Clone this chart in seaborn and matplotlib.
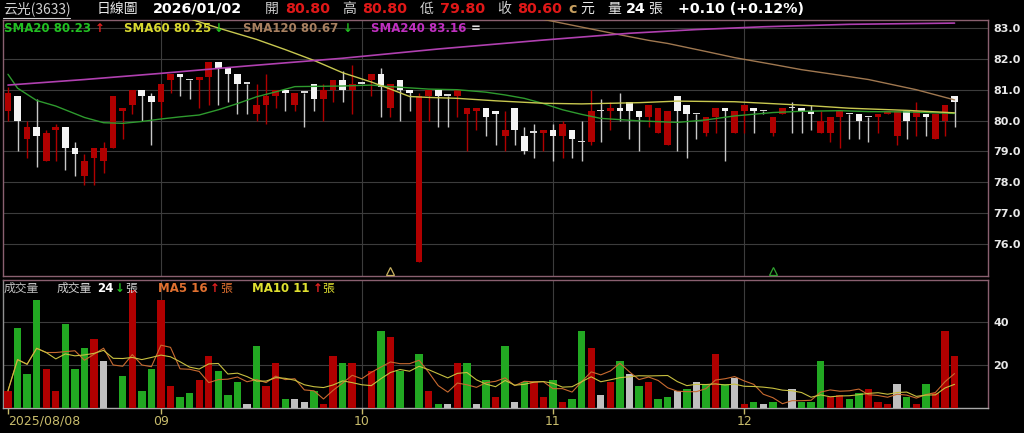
import numpy as np
import pandas as pd
import seaborn as sns
import matplotlib.pyplot as plt
from matplotlib.lines import Line2D

# daily candles 2025/08/08 .. 2026/01/02
opens = [80.3, 80.8, 79.4, 79.8, 78.7, 79.7, 79.8, 79.1, 78.2, 78.8,
         78.7, 79.1, 80.3, 80.5, 81.0, 80.8, 80.6, 81.3, 81.5, 81.3,
         81.3, 81.4, 81.9, 81.7, 81.5, 81.2, 80.2, 80.5, 80.8, 81.0,
         80.5, 80.9, 81.2, 80.7, 81.0, 81.3, 81.0, 81.2, 81.3, 81.5,
         80.4, 81.3, 81.0, 75.4, 80.8, 81.0, 80.8, 80.8, 80.2, 80.3,
         80.4, 80.3, 79.5, 80.4, 79.5, 79.6, 79.6, 79.7, 79.5, 79.7,
         79.3, 79.3, 80.3, 80.3, 80.4, 80.6, 80.3, 80.1, 79.6, 79.2,
         80.8, 80.5, 80.2, 79.6, 80.1, 80.4, 79.6, 80.3, 80.4, 80.3,
         79.6, 80.2, 80.4, 80.4, 80.3, 79.6, 79.6, 80.1, 80.2, 80.2,
         80.1, 80.1, 80.2, 79.5, 80.3, 80.1, 80.2, 79.4, 80.0, 80.8]
highs = [81.1, 80.8, 80.0, 80.7, 79.7, 79.9, 79.8, 79.3, 78.9, 79.1,
         79.3, 80.8, 80.4, 81.0, 81.0, 80.9, 81.2, 81.5, 81.5, 81.3,
         81.4, 81.9, 81.9, 81.7, 81.5, 81.2, 81.2, 81.5, 81.0, 81.0,
         80.9, 80.9, 81.2, 81.2, 81.3, 81.6, 81.8, 81.2, 81.5, 81.7,
         81.2, 81.3, 81.0, 80.9, 81.0, 81.0, 80.8, 81.0, 80.4, 80.4,
         80.4, 80.3, 80.3, 80.4, 79.8, 79.9, 79.7, 79.9, 80.0, 79.7,
         80.0, 81.0, 80.7, 80.6, 80.9, 80.6, 80.3, 80.5, 80.4, 80.3,
         80.8, 80.5, 80.2, 80.1, 80.4, 80.4, 80.3, 80.5, 80.4, 80.3,
         80.1, 80.4, 80.6, 80.4, 80.5, 80.3, 80.1, 80.3, 80.2, 80.2,
         80.1, 80.2, 80.3, 80.3, 80.3, 80.6, 80.2, 80.2, 80.5, 80.8]
lows = [80.0, 79.0, 78.8, 78.5, 78.7, 78.7, 78.4, 78.2, 77.9, 77.9,
        78.3, 79.1, 79.4, 80.2, 80.0, 79.2, 80.1, 80.9, 80.8, 80.7,
        80.4, 80.5, 80.5, 80.6, 80.2, 80.2, 80.0, 79.9, 80.4, 80.3,
        80.3, 79.8, 80.3, 80.0, 80.6, 80.6, 80.2, 81.2, 80.8, 80.1,
        80.1, 80.0, 80.3, 75.4, 80.0, 79.8, 79.8, 80.1, 79.0, 79.7,
        79.5, 79.2, 79.0, 79.2, 78.9, 78.8, 79.0, 78.7, 78.8, 78.8,
        78.7, 79.2, 79.3, 79.7, 80.0, 79.4, 79.0, 79.8, 79.6, 79.2,
        79.0, 78.8, 79.4, 79.5, 79.6, 78.7, 79.6, 79.6, 79.6, 80.2,
        79.5, 80.2, 79.6, 79.6, 79.7, 79.6, 79.3, 79.1, 79.4, 79.4,
        79.3, 79.6, 80.2, 79.2, 79.4, 79.5, 79.5, 79.4, 79.5, 79.8]
closes = [80.9, 80.0, 79.8, 79.5, 79.6, 79.8, 79.1, 78.9, 78.7, 79.1,
          79.1, 80.8, 80.4, 81.0, 80.8, 80.6, 81.2, 81.5, 81.4, 81.3,
          81.4, 81.9, 81.7, 81.5, 81.2, 81.2, 80.5, 80.8, 81.0, 80.9,
          80.9, 80.9, 80.7, 81.0, 81.3, 81.0, 81.2, 81.2, 81.5, 81.1,
          81.2, 81.0, 80.9, 80.8, 81.0, 80.8, 80.8, 81.0, 80.4, 80.4,
          80.1, 80.2, 79.7, 79.7, 79.0, 79.6, 79.7, 79.5, 79.9, 79.4,
          79.3, 80.3, 80.3, 80.4, 80.3, 80.3, 80.1, 80.5, 80.4, 80.3,
          80.3, 80.2, 80.2, 80.1, 80.4, 80.3, 80.3, 80.5, 80.3, 80.3,
          80.1, 80.4, 80.4, 80.3, 80.2, 80.0, 80.1, 80.3, 80.2, 80.0,
          80.1, 80.2, 80.3, 80.3, 80.0, 80.3, 80.1, 80.2, 80.5, 80.6]
volume = [8, 37, 16, 50, 18, 8, 39, 18, 28, 32,
          22, 0, 15, 55, 8, 18, 50, 10, 5, 7,
          13, 24, 17, 6, 12, 2, 29, 10, 21, 4,
          4, 3, 8, 2, 24, 21, 21, 0, 17, 36,
          33, 17, 0, 25, 8, 2, 2, 21, 21, 2,
          13, 5, 29, 3, 12, 12, 5, 13, 3, 4,
          36, 28, 6, 12, 22, 16, 10, 12, 4, 5,
          8, 9, 12, 11, 25, 11, 14, 2, 3, 2,
          3, 0, 9, 3, 3, 22, 5, 6, 4, 7,
          9, 3, 2, 11, 5, 2, 11, 7, 36, 24]

# moving averages of price, read at points along each line
sma20_x = [0, 1, 3, 5, 8, 10, 12, 14, 16, 18, 20, 22, 24, 26, 28, 30, 35, 38, 40,
           44, 47, 50, 52, 54, 56, 58, 60, 62, 66, 70, 73, 76, 80, 83, 87, 90, 94, 99]
sma20_y = [81.50, 81.05, 80.65, 80.47, 80.10, 79.93, 79.91, 79.97, 80.05, 80.12,
           80.18, 80.35, 80.55, 80.77, 80.93, 81.10, 81.12, 81.15, 81.10, 81.02,
           81.00, 80.92, 80.83, 80.72, 80.55, 80.35, 80.20, 80.07, 79.99, 79.94,
           80.02, 80.15, 80.26, 80.30, 80.32, 80.29, 80.28, 80.23]
sma60_x = [19, 22, 26, 29, 32, 35, 38, 40, 42, 44, 47, 51, 56, 60, 66, 70, 76, 83, 88, 94, 99]
sma60_y = [83.30, 83.00, 82.63, 82.30, 81.95, 81.55, 81.25, 81.02, 80.78, 80.75, 80.72,
           80.64, 80.56, 80.54, 80.58, 80.63, 80.61, 80.50, 80.40, 80.33, 80.25]
sma120_x = [56, 60, 64, 67, 69, 73, 76, 80, 83, 87, 90, 95, 99]
sma120_y = [83.28, 83.03, 82.78, 82.60, 82.50, 82.24, 82.04, 81.82, 81.65, 81.47,
            81.33, 81.00, 80.67]
sma240_x = [0, 8, 16, 25, 35, 45, 56, 65, 72, 79, 88, 99]
sma240_y = [81.15, 81.33, 81.53, 81.77, 82.02, 82.32, 82.61, 82.83, 82.95, 83.04,
            83.12, 83.16]

month_pos = [0, 16, 37, 57, 77]
month_labels = ['2025/08/08', '09', '10', '11', '12']
price_ticks = [76, 77, 78, 79, 80, 81, 82, 83]
vol_ticks = [20, 40]
signal_pos = [40, 80]

W, H = 1024, 433
RED = '#b00000'
GREEN = '#22a822'
GREY = '#c0c0c0'
CJK = ['Noto Sans CJK TC', 'DejaVu Sans']

sns.set_theme(style='dark', rc={'axes.facecolor': 'black', 'figure.facecolor': 'black',
                                'savefig.facecolor': 'black'})
plt.rcParams['font.family'] = ['DejaVu Sans', 'Noto Sans CJK TC']

fig = plt.figure(figsize=(W / 100, H / 100), dpi=100)
ax = fig.add_axes([3 / W, 1 - 276 / H, 985 / W, 256 / H])
axv = fig.add_axes([3 / W, 1 - 408 / H, 985 / W, 128 / H])

idx = np.arange(len(closes))
o, h, l, c = map(np.array, (opens, highs, lows, closes))

# candles
body_col = np.where(c > o, RED, np.where(c < o, '#f4f4f4', '#d8d8d8'))
wick_col = np.where(c > o, RED, '#c8c8c8')
ax.vlines(idx, l, h, colors=wick_col, lw=1, zorder=2)
ax.bar(idx, np.maximum(np.abs(c - o), 0.05), bottom=np.minimum(o, c), width=0.7,
       color=body_col, linewidth=0, zorder=3)

# moving average lines
sns.lineplot(x=sma20_x, y=sma20_y, color='#2e9a2e', lw=1, ax=ax, zorder=4)
sns.lineplot(x=sma60_x, y=sma60_y, color='#c8c850', lw=1, ax=ax, zorder=4)
sns.lineplot(x=sma120_x, y=sma120_y, color='#a07850', lw=1, ax=ax, zorder=4)
sns.lineplot(x=sma240_x, y=sma240_y, color='#b040b0', lw=1.2, ax=ax, zorder=4)

# signal marks at the bottom of the price panel
for p, col in zip(signal_pos, ['#c8b060', '#30a030']):
    ax.plot(p, 75.12, marker='^', ms=6, mfc='none', mec=col, mew=0.9, zorder=5)

ax.set_xlim(-0.52, 102.5)
ax.set_ylim(74.96, 83.26)
ax.set_yticks(price_ticks)
ax.set_yticklabels([f'{t:.1f}' for t in price_ticks])
ax.yaxis.tick_right()
ax.tick_params(axis='y', length=0, pad=4, labelcolor='#e8e8e8', labelsize=8)
ax.set_xticks([])
ax.grid(axis='y', color='#3c3c3c', lw=0.8)
for p in month_pos[1:]:
    ax.axvline(p, color='#3c3c3c', lw=0.8, zorder=1)

# volume
prev = np.r_[c[0] - 0.1, c[:-1]]
vol_df = pd.DataFrame({'idx': idx, 'vol': volume,
                       'dir': np.where(c > prev, 'up', np.where(c < prev, 'down', 'flat'))})
sns.barplot(data=vol_df, x='idx', y='vol', hue='dir', native_scale=True, dodge=False,
            palette={'up': RED, 'down': GREEN, 'flat': GREY}, width=0.77,
            saturation=1, errorbar=None, legend=False, linewidth=0, ax=axv, zorder=3)
vs = pd.Series(volume, dtype=float)
sns.lineplot(x=idx, y=vs.rolling(5, min_periods=1).mean(), color='#c86a30', lw=0.8, ax=axv, zorder=4)
sns.lineplot(x=idx, y=vs.rolling(10, min_periods=1).mean(), color='#c8c040', lw=0.8, ax=axv, zorder=4)

axv.set_xlim(-0.52, 102.5)
axv.set_ylim(0, 59.5)
axv.set_xlabel('')
axv.set_ylabel('')
axv.set_yticks(vol_ticks)
axv.yaxis.tick_right()
axv.tick_params(axis='y', length=0, pad=4, labelcolor='#e8e8e8', labelsize=8)
axv.set_xticks(month_pos)
axv.set_xticklabels(month_labels)
axv.tick_params(axis='x', length=4, width=1, color='#c8bc6c', labelcolor='#c8bc6c',
                labelsize=9, pad=1, bottom=True)
axv.get_xticklabels()[0].set_ha('left')
axv.grid(axis='y', color='#3c3c3c', lw=0.8)
for p in month_pos[1:]:
    axv.axvline(p, color='#3c3c3c', lw=0.8, zorder=1)

for lbl in ax.get_yticklabels() + axv.get_yticklabels():
    lbl.set_fontweight('bold')

for a in (ax, axv):
    for s in a.spines.values():
        s.set_visible(True)
        s.set_color('#8a6070')
        s.set_linewidth(1)
axv.spines['bottom'].set_color('#a8a8a8')
axv.spines['left'].set_color('#909090')


def put(x, y, s, color, size=8.5, weight='bold', family=None):
    fig.text(x / W, 1 - y / H, s, color=color, fontsize=size, fontweight=weight,
             ha='left', va='center', family=family or ['DejaVu Sans', 'Noto Sans CJK TC'])


# header line
put(3, 9, '云光(3633)', '#d0d0d0', 10, 'normal', CJK)
fig.add_artist(Line2D([3 / W, 70 / W], [1 - 18 / H, 1 - 18 / H], color='#d0d0d0', lw=0.8))
put(97, 9, '日線圖', '#e8e8e8', 10, 'normal', CJK)
put(153, 9, '2026/01/02', 'white', 10.3)
for x, k, xv, v in [(265, '開', 285, '80.80'), (342, '高', 362, '80.80'),
                    (420, '低', 440, '79.80'), (497, '收', 517, '80.60')]:
    put(x, 9, k, '#d0d0d0', 10, 'normal', CJK)
    put(xv, 9, v, '#e01818', 10.3)
put(568, 9, 'c', '#c8a060', 10.3)
put(580, 9, '元', '#e8e8e8', 10, 'normal', CJK)
put(607, 9, '量', '#e8e8e8', 10, 'normal', CJK)
put(626, 9, '24', 'white', 10.3)
put(648, 9, '張', '#e8e8e8', 10, 'normal', CJK)
put(678, 9, '+0.10 (+0.12%)', 'white', 10.3)

# price legend
put(4, 29, 'SMA20 80.23', '#22c022')
put(95, 29, '↑', '#e02020')
put(124, 29, 'SMA60 80.25', '#d8d830')
put(214, 29, '↓', '#20c020')
put(243, 29, 'SMA120 80.67', '#a88060')
put(343, 29, '↓', '#20c020')
put(371, 29, 'SMA240 83.16', '#c030c0')
put(471, 29, '=', '#e0e0e0')

# volume legend
put(4, 288, '成交量', '#c0c0c0', 8.5, 'normal', CJK)
put(57, 288, '成交量', '#d0d0d0', 8.5, 'normal', CJK)
put(97, 288, '24', 'white')
put(115, 288, '↓', '#20c020')
put(125, 288, '張', '#d0d0d0', 8.5, 'normal', CJK)
put(158, 288, 'MA5 16', '#e07030')
put(210, 288, '↑', '#e02020')
put(220, 288, '張', '#e07030', 8.5, 'normal', CJK)
put(252, 288, 'MA10 11', '#e0e030')
put(313, 288, '↑', '#e02020')
put(322, 288, '張', '#e0e030', 8.5, 'normal', CJK)

fig.savefig('out.png', dpi=100)
